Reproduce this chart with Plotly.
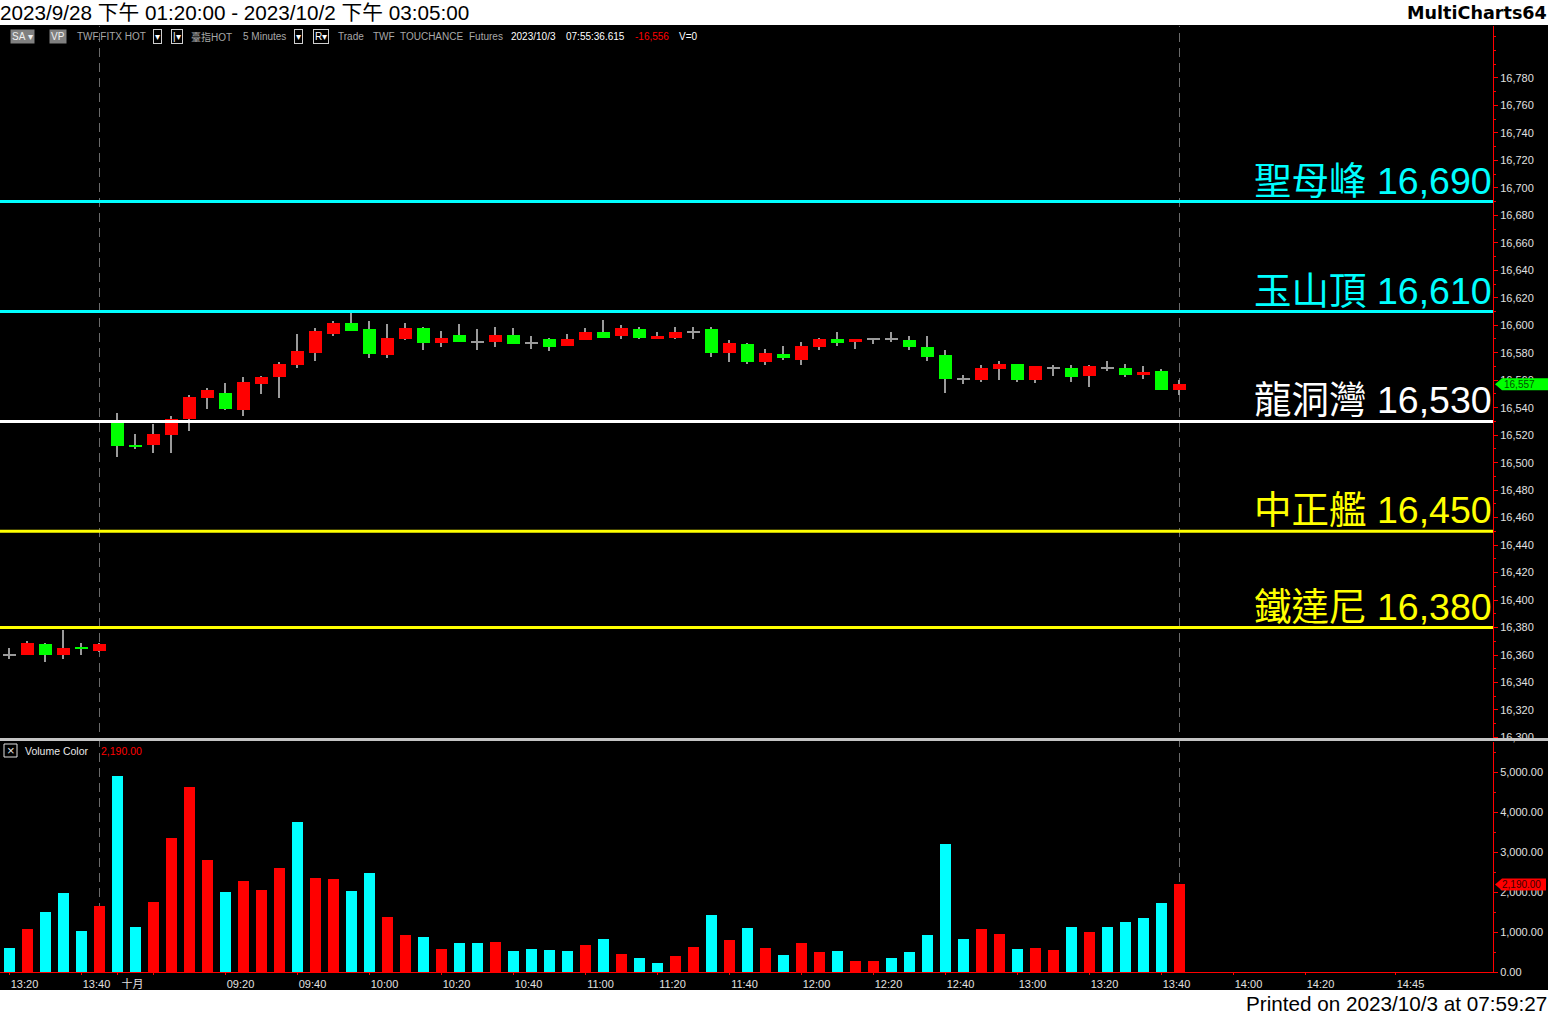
import plotly.graph_objects as go

# ---------------- data ----------------
bar_times = ["13:20", "13:25", "13:30", "13:35", "13:40", "13:45",
             "08:50", "08:55", "09:00", "09:05", "09:10", "09:15", "09:20", "09:25", "09:30", "09:35",
             "09:40", "09:45", "09:50", "09:55", "10:00", "10:05", "10:10", "10:15", "10:20", "10:25",
             "10:30", "10:35", "10:40", "10:45", "10:50", "10:55", "11:00", "11:05", "11:10", "11:15",
             "11:20", "11:25", "11:30", "11:35", "11:40", "11:45", "11:50", "11:55", "12:00", "12:05",
             "12:10", "12:15", "12:20", "12:25", "12:30", "12:35", "12:40", "12:45", "12:50", "12:55",
             "13:00", "13:05", "13:10", "13:15", "13:20", "13:25", "13:30", "13:35", "13:40", "13:45"]

opens = [16360, 16360, 16368, 16360, 16366, 16363,
         16531, 16513, 16513, 16520, 16532, 16547, 16551, 16538, 16557, 16562,
         16571, 16580, 16594, 16602, 16597, 16578, 16590, 16598, 16587, 16593,
         16588, 16588, 16593, 16587, 16590, 16585, 16589, 16595, 16592, 16597,
         16590, 16591, 16595, 16597, 16580, 16586, 16573, 16579, 16575, 16584,
         16590, 16588, 16590, 16590, 16589, 16584, 16578, 16561, 16560, 16568,
         16572, 16560, 16569, 16569, 16563, 16569, 16569, 16564, 16567, 16553]
highs = [16365, 16370, 16369, 16378, 16369, 16369,
         16536, 16521, 16528, 16534, 16549, 16554, 16558, 16562, 16563, 16573,
         16594, 16598, 16603, 16609, 16603, 16601, 16602, 16599, 16596, 16601,
         16597, 16599, 16598, 16592, 16591, 16594, 16598, 16604, 16600, 16599,
         16595, 16599, 16599, 16599, 16589, 16587, 16583, 16585, 16588, 16591,
         16595, 16590, 16591, 16595, 16592, 16592, 16582, 16564, 16571, 16574,
         16572, 16570, 16571, 16571, 16571, 16574, 16572, 16570, 16568, 16560]
lows = [16357, 16360, 16355, 16357, 16360, 16362,
        16504, 16510, 16507, 16507, 16523, 16539, 16538, 16534, 16550, 16547,
        16569, 16574, 16592, 16596, 16576, 16576, 16589, 16582, 16584, 16588,
        16582, 16584, 16586, 16583, 16581, 16585, 16589, 16591, 16590, 16590,
        16590, 16590, 16590, 16577, 16573, 16572, 16571, 16575, 16571, 16582,
        16585, 16583, 16586, 16588, 16582, 16574, 16551, 16557, 16559, 16560,
        16559, 16558, 16563, 16559, 16555, 16567, 16562, 16561, 16553, 16549]
closes = [16360, 16369, 16360, 16365, 16365, 16368,
          16512, 16512, 16521, 16532, 16548, 16553, 16539, 16559, 16562, 16572,
          16581, 16596, 16602, 16596, 16579, 16591, 16598, 16587, 16591, 16588,
          16588, 16593, 16586, 16587, 16584, 16590, 16595, 16591, 16598, 16591,
          16592, 16595, 16595, 16580, 16587, 16573, 16580, 16576, 16585, 16590,
          16587, 16590, 16590, 16590, 16584, 16577, 16561, 16561, 16569, 16572,
          16560, 16570, 16569, 16562, 16570, 16569, 16564, 16566, 16553, 16557]

volumes = [600, 1075, 1500, 1975, 1025, 1650,
           4900, 1125, 1750, 3350, 4625, 2800, 2000, 2275, 2050, 2600,
           3750, 2350, 2325, 2025, 2475, 1375, 925, 875, 575, 725,
           725, 750, 525, 575, 550, 525, 675, 825, 450, 350,
           225, 400, 625, 1425, 800, 1100, 600, 425, 725, 500,
           525, 275, 275, 350, 500, 925, 3200, 825, 1075, 950,
           575, 600, 550, 1125, 1000, 1125, 1250, 1350, 1725, 2190]
# 1 = up volume (red), 0 = down volume (cyan)
vol_up = [0, 1, 0, 0, 0, 1,
          0, 0, 1, 1, 1, 1, 0, 1, 1, 1,
          0, 1, 1, 0, 0, 1, 1, 0, 1, 0,
          0, 1, 0, 0, 0, 0, 1, 0, 1, 0,
          0, 1, 1, 0, 1, 0, 1, 0, 1, 1,
          0, 1, 1, 0, 0, 0, 0, 0, 1, 1,
          0, 1, 1, 0, 1, 0, 0, 0, 0, 1]

level_names = ["聖母峰", "玉山頂", "龍洞灣", "中正艦", "鐵達尼"]
level_values = [16690, 16610, 16530, 16450, 16380]
level_colors = ["#00ffff", "#00ffff", "#ffffff", "#ffff00", "#ffff00"]

x_tick_idx = [0, 4, 6, 8, 12, 16, 20, 24, 28, 32, 36, 40, 44, 48, 52, 56, 60, 64, 68, 72, 77]
x_tick_text = ["13:20", "13:40", "十月", "", "09:20", "09:40", "10:00", "10:20", "10:40", "11:00",
               "11:20", "11:40", "12:00", "12:20", "12:40", "13:00", "13:20", "13:40", "14:00",
               "14:20", "14:45"]

price_ticks = list(range(16300, 16781, 20))
vol_ticks = [0, 1000, 2000, 3000, 4000, 5000]

session_break_idx = [5, 65]
last_price = 16557
last_volume = 2190

title_text = "2023/9/28 下午 01:20:00 - 2023/10/2 下午 03:05:00"
footer_text = "Printed on 2023/10/3 at 07:59:27"

# ---------------- layout helpers ----------------
W = 1548
H_REF = 1014   # reference picture height (positions below are measured in it)
H_FIG = 1020   # figure height
def fx(p):
    return p / W
def fy(p):
    return 1 - p / H_REF

RED = "#ff0000"
GREEN = "#00ff00"
CYAN = "#00ffff"
WICK = "#9a9a9a"
AXC = "#e0e0e0"
FONT = "Arial, 'Liberation Sans', 'Noto Sans CJK TC', sans-serif"

idx = list(range(len(opens)))

fig = go.Figure()

# wicks
fig.add_trace(go.Bar(
    x=idx, y=[h - l for h, l in zip(highs, lows)], base=lows, width=0.06,
    marker=dict(color=WICK, line=dict(width=0)), xaxis="x", yaxis="y", hoverinfo="skip"))

# bodies
body_base, body_h, body_col = [], [], []
for o, c in zip(opens, closes):
    if o == c:
        body_base.append(o - 0.4)
        body_h.append(0.8)
        body_col.append(WICK)
    else:
        body_base.append(min(o, c))
        body_h.append(abs(c - o))
        body_col.append(RED if c > o else GREEN)
fig.add_trace(go.Bar(
    x=idx, y=body_h, base=body_base, width=0.72,
    marker=dict(color=body_col, line=dict(width=0)), xaxis="x", yaxis="y",
    customdata=list(zip(bar_times, opens, highs, lows, closes)),
    hovertemplate="%{customdata[0]}<br>O %{customdata[1]}<br>H %{customdata[2]}<br>L %{customdata[3]}<br>C %{customdata[4]}<extra></extra>"))

# volume
fig.add_trace(go.Bar(
    x=idx, y=volumes, width=0.61,
    marker=dict(color=[RED if u else CYAN for u in vol_up], line=dict(width=0)),
    xaxis="x", yaxis="y2"))

shapes = []
shapes.append(dict(type="rect", xref="paper", yref="paper", x0=0, x1=1, y0=fy(990), y1=fy(25),
                   fillcolor="black", line=dict(width=0), layer="below"))
for v, col in zip(level_values, level_colors):
    shapes.append(dict(type="line", xref="x domain", yref="y", x0=0, x1=1, y0=v, y1=v,
                       line=dict(color=col, width=3), layer="above"))
for b in session_break_idx:
    shapes.append(dict(type="line", xref="x", yref="paper", x0=b, x1=b, y0=fy(972), y1=fy(26),
                       line=dict(color="#6a6a6a", width=1, dash="9px,6px"), layer="below"))
shapes.append(dict(type="rect", xref="paper", yref="paper", x0=0, x1=1, y0=fy(741), y1=fy(738),
                   fillcolor="#c4c4c4", line=dict(width=0), layer="above"))
shapes.append(dict(type="path", xref="paper", xsizemode="pixel", xanchor=fx(1493),
                   yref="y", ysizemode="pixel", yanchor=last_price,
                   path="M 2 0 L 9 6 L 55 6 L 55 -6 L 9 -6 Z",
                   fillcolor=GREEN, line=dict(width=0), layer="above"))
shapes.append(dict(type="path", xref="paper", xsizemode="pixel", xanchor=fx(1493),
                   yref="y2", ysizemode="pixel", yanchor=last_volume,
                   path="M 2 0 L 9 6 L 53 6 L 53 -6 L 9 -6 Z",
                   fillcolor=RED, line=dict(width=0), layer="above"))
shapes.append(dict(type="rect", xref="paper", yref="paper", x0=fx(4), x1=fx(17), y0=fy(757), y1=fy(744),
                   fillcolor="black", line=dict(color="#e0e0e0", width=1), layer="above"))

ann = []
for name, v, col in zip(level_names, level_values, level_colors):
    ann.append(dict(text=f"{name} {v:,}", xref="x domain", x=1, xanchor="right", xshift=1,
                    yref="y", y=v, yanchor="bottom", yshift=-2, showarrow=False,
                    font=dict(family=FONT, size=37.5, color=col)))

ann.append(dict(text=title_text, xref="paper", x=0, xanchor="left", xshift=-2, yref="paper", y=fy(13),
                yanchor="middle", showarrow=False, font=dict(family=FONT, size=20.7, color="black")))
ann.append(dict(text="<b>MultiCharts64</b>", xref="paper", x=1, xanchor="right", xshift=1, yref="paper",
                y=fy(13), yanchor="middle", showarrow=False,
                font=dict(family="'DejaVu Sans', Tahoma, sans-serif", size=17.6, color="black")))
ann.append(dict(text=footer_text, xref="paper", x=1, xanchor="right", xshift=1, yref="paper", y=fy(1003),
                yanchor="middle", showarrow=False, font=dict(family=FONT, size=20.7, color="black")))

def tb(text, xpx, color="#a8a8a8", bg=None, border=None, size=10):
    d = dict(text=text, xref="paper", x=fx(xpx), xanchor="left", yref="paper", y=fy(36.5),
             yanchor="middle", showarrow=False, font=dict(family=FONT, size=size, color=color),
             borderpad=1)
    if bg:
        d["bgcolor"] = bg
    if border:
        d["bordercolor"] = border
        d["borderwidth"] = 1
    return d

ann += [
    tb("SA ▾", 10, color="#f0f0f0", bg="#808080"),
    tb("VP", 49, color="#f0f0f0", bg="#808080"),
    tb("TWF.FITX HOT", 75),
    tb("▾", 153, color="#ffffff", border="#d0d0d0"),
    tb("|▾", 171, color="#ffffff", border="#d0d0d0"),
    tb("臺指HOT", 189),
    tb("5 Minutes", 241),
    tb("▾", 294, color="#ffffff", border="#d0d0d0"),
    tb("R▾", 313, color="#ffffff", border="#d0d0d0"),
    tb("Trade", 336),
    tb("TWF", 371),
    tb("TOUCHANCE", 398),
    tb("Futures", 467),
    tb("2023/10/3", 509, color="#ffffff"),
    tb("07:55:36.615", 564, color="#ffffff"),
    tb(f"-{16556:,}", 633, color=RED),
    tb("V=0", 677, color="#ffffff"),
]

ann.append(dict(text="×", xref="paper", x=fx(10.5), xanchor="center", yref="paper", y=fy(750.5),
                yanchor="middle", showarrow=False, font=dict(family=FONT, size=13, color="#e0e0e0")))
ann.append(dict(text="Volume Color", xref="paper", x=fx(23), xanchor="left", yref="paper", y=fy(751),
                yanchor="middle", showarrow=False, font=dict(family=FONT, size=10.5, color="#e8e8e8")))
ann.append(dict(text=f"{last_volume:,.2f}", xref="paper", x=fx(99), xanchor="left", yref="paper", y=fy(751),
                yanchor="middle", showarrow=False, font=dict(family=FONT, size=10.5, color=RED)))

ann.append(dict(text=f"{last_price:,}", xref="paper", x=fx(1502), xanchor="left", yref="y", y=last_price,
                yanchor="middle", showarrow=False, font=dict(family=FONT, size=10, color="#005000")))
ann.append(dict(text=f"{last_volume:,.2f}", xref="paper", x=fx(1500), xanchor="left", yref="y2", y=last_volume,
                yanchor="middle", showarrow=False, font=dict(family=FONT, size=10, color="#400000")))

x_range = [-0.528, 82.417]

fig.update_layout(
    width=W, height=H_FIG, autosize=False,
    margin=dict(l=0, r=0, t=0, b=0),
    paper_bgcolor="white", plot_bgcolor="black",
    barmode="overlay", bargap=0, showlegend=False,
    shapes=shapes, annotations=ann,
    xaxis=dict(domain=[0, fx(1493)], range=x_range, anchor="y2",
               tickmode="array", tickvals=x_tick_idx, ticktext=x_tick_text,
               ticks="outside", ticklen=2, tickcolor=RED, showline=True, linecolor=RED, linewidth=1,
               tickfont=dict(family=FONT, size=11, color=AXC), ticklabelshift=15,
               showgrid=False, zeroline=False, fixedrange=True),
    yaxis=dict(domain=[fy(738), fy(26)], range=[16299.6, 16817.8], side="right", anchor="x",
               tickmode="array", tickvals=price_ticks, tickformat=",",
               ticks="outside", ticklen=4, tickcolor=RED, showline=True, linecolor=RED, linewidth=1,
               tickfont=dict(family=FONT, size=11, color=AXC),
               minor=dict(dtick=10, ticks="outside", ticklen=2, tickcolor=RED),
               showgrid=False, zeroline=False),
    yaxis2=dict(domain=[fy(972), fy(742)], range=[0, 5750], side="right", anchor="x",
                tickmode="array", tickvals=vol_ticks, tickformat=",.2f",
                ticks="outside", ticklen=4, tickcolor=RED, showline=True, linecolor=RED, linewidth=1,
                tickfont=dict(family=FONT, size=11, color=AXC),
                minor=dict(dtick=500, ticks="outside", ticklen=2, tickcolor=RED),
                showgrid=False, zeroline=False),
)

post = "document.body.style.margin='0';"
fig.write_html("out.html", config={"displayModeBar": False, "responsive": False}, post_script=post)
